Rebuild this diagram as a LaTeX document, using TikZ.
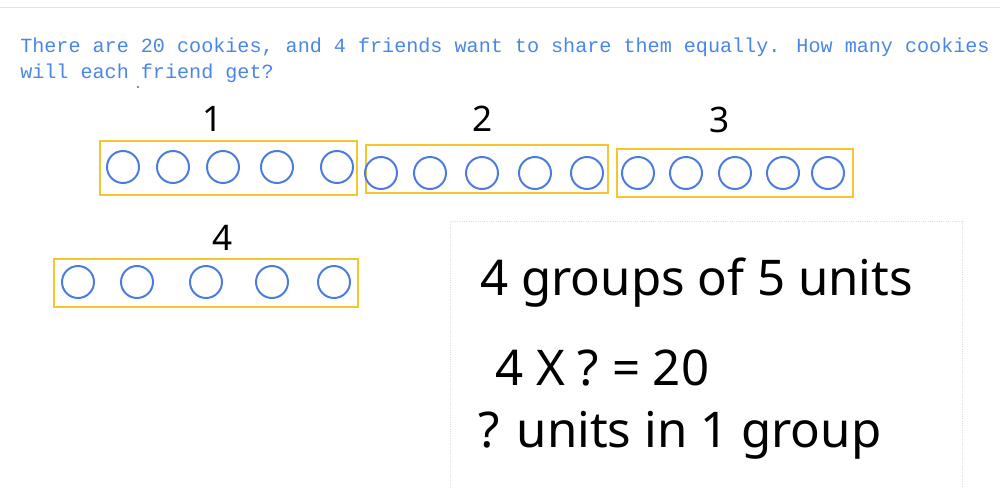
\documentclass[tikz,border=0pt]{standalone}
\usepackage{fontspec}
\usepackage{tikz}
\usetikzlibrary{positioning}
\newfontfamily\qfont{Liberation Mono}
\newfontfamily\handfont{Noto Sans}
\definecolor{QBlue}{HTML}{4A86E8}
\definecolor{CookieBlue}{HTML}{4A7BDF}
\definecolor{GroupGold}{HTML}{F5C72C}
\definecolor{NoteGrey}{HTML}{DCDCDC}
\definecolor{RuleGrey}{HTML}{E4E4E4}
\tikzset{
  cookie/.style={circle, draw=CookieBlue, line width=1.4pt, fill=none,
                 minimum size=8mm, inner sep=0pt},
  grpbox/.style={draw=GroupGold, line width=1.3pt},
  grplabel/.style={font=\handfont\fontsize{25}{25}\selectfont, text=black, inner sep=0pt},
  qtext/.style={font=\qfont\fontsize{14.3}{21}\selectfont, text=QBlue, anchor=base west, inner sep=0pt},
  note/.style={font=\handfont\fontsize{35}{35}\selectfont, text=black, anchor=base west, inner sep=0pt},
}

\begin{document}
\begin{tikzpicture}[x=0.025cm, y=-0.025cm,
  notebox/.style={draw=NoteGrey, line width=0.6pt, densely dotted},
]
\useasboundingbox (0,0) rectangle (1000,488);
\draw[RuleGrey, line width=0.6pt] (0,7) -- (1000,7);
% ---------------------------------------------------------------- question
\node[qtext] (q1) at (20,52) {There are 20 cookies, and 4 friends want to share them equally. How many cookies};
\node[qtext] (q2) at (20,78) {will each friend get?};
\fill[black!60] (138,87) circle (1.2);
% ---------------------------------------------------------------- group 1
\draw[grpbox] (100,141) rectangle (357,195);
\foreach \cx [count=\i] in {123,173,223,277,337} {\node[cookie] (a\i) at (\cx,167) {};}
\node[grplabel] (n1) at (213,119) {1};
% ---------------------------------------------------------------- group 2
\draw[grpbox] (366,145) rectangle (608,193);
\foreach \cx [count=\i] in {381,430,482,535,587} {\node[cookie] (b\i) at (\cx,173) {};}
\node[grplabel] (n2) at (483,119) {2};
% ---------------------------------------------------------------- group 3
\draw[grpbox] (617,149) rectangle (853,197);
\foreach \cx [count=\i] in {638,686,735,783,828} {\node[cookie] (c\i) at (\cx,173) {};}
\node[grplabel] (n3) at (720,120) {3};
% ---------------------------------------------------------------- group 4
\draw[grpbox] (54,259) rectangle (358,307);
\foreach \cx [count=\i] in {78,137,206,272,334} {\node[cookie] (d\i) at (\cx,282) {};}
\node[grplabel] (n4) at (223,238) {4};
% ---------------------------------------------------------------- working
\draw[notebox] (450,488) -- (450,221) -- (962,221) -- (962,488);
\node[note] (w1) at (480,295) {4 groups of 5 units};
\node[note] (w2) at (495,385) {4 X ? = 20};
\node[note] (w3) at (478,447) {? units in 1 group};
\end{tikzpicture}
\end{document}
